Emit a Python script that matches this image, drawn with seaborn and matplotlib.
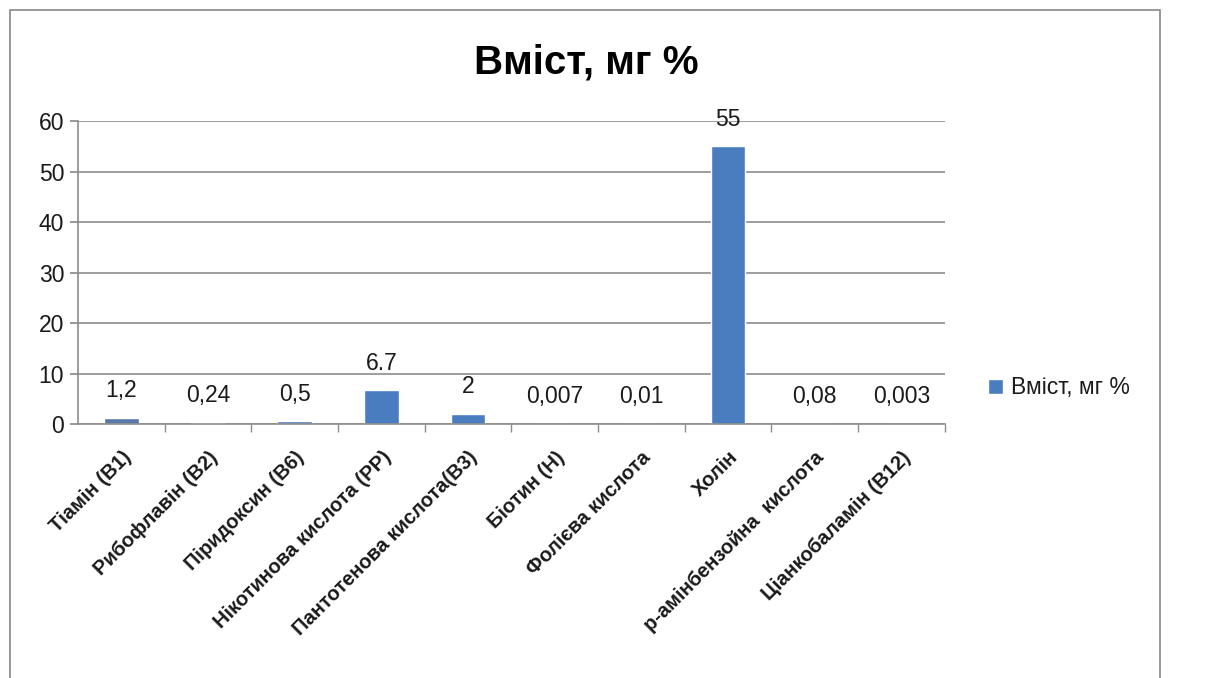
import matplotlib
matplotlib.use("Agg")
import matplotlib.pyplot as plt
from matplotlib.patches import Rectangle
import pandas as pd
import seaborn as sns

# ---------------------------------------------------------------------------
# Data
# ---------------------------------------------------------------------------
vitamins = [
    "Тіамін (В1)", "Рибофлавін (В2)", "Піридоксин (В6)",
    "Нікотинова кислота (РР)", "Пантотенова кислота(В3)", "Біотин (Н)",
    "Фолієва кислота", "Холін", "р-амінбензойна  кислота",
    "Ціанкобаламін (В12)",
]
content = [1.2, 0.24, 0.5, 6.7, 2, 0.007, 0.01, 55, 0.08, 0.003]
value_labels = ["1,2", "0,24", "0,5", "6.7", "2", "0,007", "0,01", "55", "0,08", "0,003"]
y_ticks = [0, 10, 20, 30, 40, 50, 60]

series_name = "Вміст, мг %"
bar_color = "#4a7dc0"
text_color = "#1a1a1a"

df = pd.DataFrame({"vitamin": vitamins, "value": content})

sns.set_theme(style="white")
plt.rcParams["font.family"] = ["Liberation Sans", "DejaVu Sans"]

fig = plt.figure(figsize=(12.08, 6.78), dpi=100)
ax = fig.add_axes([0.0646, 0.3746, 0.7174, 0.4469])

sns.barplot(data=df, x="vitamin", y="value", color=bar_color, width=0.4,
            saturation=1, ax=ax)
ax.patches[0].set_facecolor("#5878a8")

ax.set_ylim(0, 60)
ax.set_xlim(-0.5, len(vitamins) - 0.5)
ax.set_yticks(y_ticks)
ax.set_yticklabels([str(t) for t in y_ticks], fontsize=16.5, color=text_color)
ax.yaxis.grid(True, color="#8c8c8c", linewidth=1.2)
ax.set_axisbelow(True)
ax.set_xlabel("")
ax.set_ylabel("")

for s in ["top", "right"]:
    ax.spines[s].set_visible(False)
for s in ["left", "bottom"]:
    ax.spines[s].set_color("#8c8c8c")
    ax.spines[s].set_linewidth(1.2)

ax.tick_params(axis="y", left=True, length=6, color="#8c8c8c", pad=4)
ax.set_xticks(range(len(vitamins)))
ax.set_xticklabels(vitamins, rotation=45, ha="right", rotation_mode="anchor",
                   fontsize=14.5, fontweight="bold", color=text_color)
ax.tick_params(axis="x", which="major", length=0, pad=17)
ax.set_xticks([i + 0.5 for i in range(len(vitamins))], minor=True)
ax.tick_params(axis="x", which="minor", bottom=True, length=6, color="#8c8c8c")

for i, (v, lab) in enumerate(zip(content, value_labels)):
    ax.annotate(lab, (i, v), xytext=(0, 19.5), textcoords="offset points",
                ha="center", va="center", fontsize=16.5, color=text_color)

handle = Rectangle((0, 0), 1, 1, facecolor=bar_color)
fig.legend([handle], [series_name], loc="center left",
           bbox_to_anchor=(0.801, 0.428), frameon=False, fontsize=16.5,
           handlelength=0.65, handleheight=0.65, handletextpad=0.35,
           labelcolor=text_color)

fig.text(0.485, 0.908, "Вміст, мг %", ha="center", va="center",
         fontsize=29, fontweight="bold", color="#000000")

# chart frame
fig.add_artist(Rectangle((0.008, -0.01), 0.952, 0.995, transform=fig.transFigure,
                         fill=False, edgecolor="#888888", linewidth=1.2))

fig.savefig("out.png", dpi=100)
